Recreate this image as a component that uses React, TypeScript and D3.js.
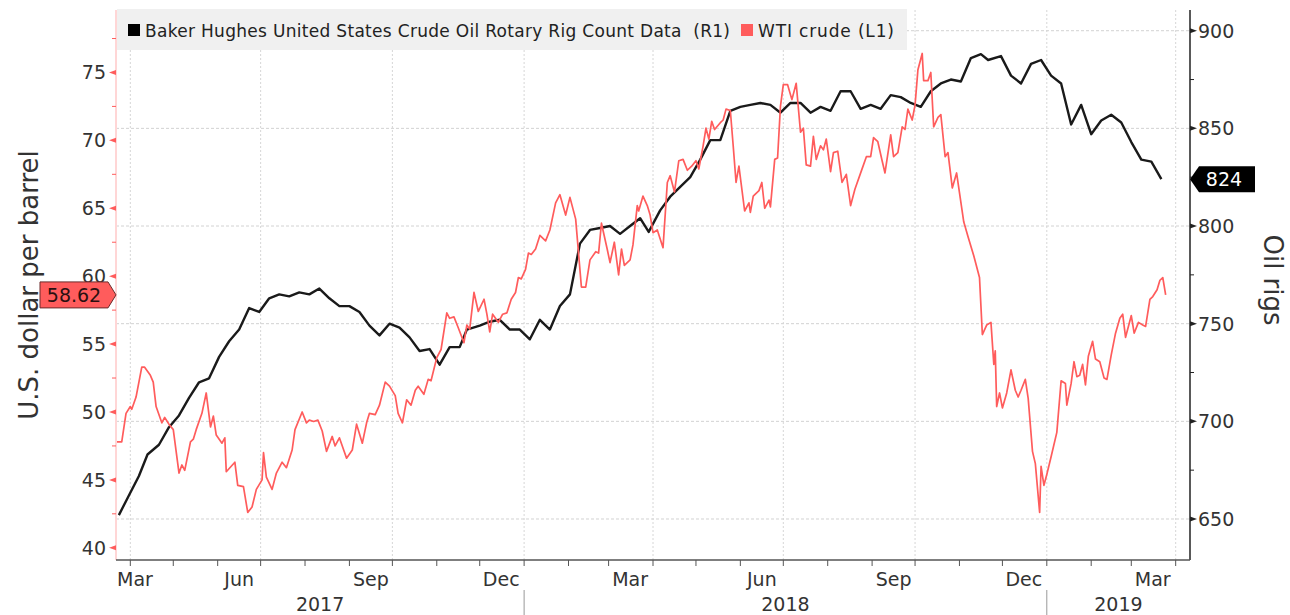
import { useEffect, useRef } from "react";
import * as d3 from "d3";

// Baker Hughes US crude oil rig count, weekly
const rigDates = [
  "2017-03-24", "2017-03-31", "2017-04-07", "2017-04-13", "2017-04-21", "2017-04-28",
  "2017-05-05", "2017-05-12", "2017-05-19", "2017-05-26", "2017-06-02", "2017-06-09",
  "2017-06-16", "2017-06-23", "2017-06-30", "2017-07-07", "2017-07-14", "2017-07-21",
  "2017-07-28", "2017-08-04", "2017-08-11", "2017-08-18", "2017-08-25", "2017-09-01",
  "2017-09-08", "2017-09-15", "2017-09-22", "2017-09-29", "2017-10-06", "2017-10-13",
  "2017-10-20", "2017-10-27", "2017-11-03", "2017-11-10", "2017-11-17", "2017-11-22",
  "2017-12-01", "2017-12-08", "2017-12-15", "2017-12-22", "2017-12-29", "2018-01-05",
  "2018-01-12", "2018-01-19", "2018-01-26", "2018-02-02", "2018-02-09", "2018-02-16",
  "2018-02-23", "2018-03-02", "2018-03-09", "2018-03-16", "2018-03-23", "2018-03-29",
  "2018-04-06", "2018-04-13", "2018-04-20", "2018-04-27", "2018-05-04", "2018-05-11",
  "2018-05-18", "2018-05-25", "2018-06-01", "2018-06-08", "2018-06-15", "2018-06-22",
  "2018-06-29", "2018-07-06", "2018-07-13", "2018-07-20", "2018-07-27", "2018-08-03",
  "2018-08-10", "2018-08-17", "2018-08-24", "2018-08-31", "2018-09-07", "2018-09-14",
  "2018-09-21", "2018-09-28", "2018-10-05", "2018-10-12", "2018-10-19", "2018-10-26",
  "2018-11-02", "2018-11-09", "2018-11-16", "2018-11-21", "2018-11-30", "2018-12-07",
  "2018-12-14", "2018-12-21", "2018-12-28", "2019-01-04", "2019-01-11", "2019-01-18",
  "2019-01-25", "2019-02-01", "2019-02-08", "2019-02-15", "2019-02-22", "2019-03-01",
  "2019-03-08", "2019-03-15", "2019-03-22",
];
const rigCounts = [
  652, 662, 672, 683, 688, 697, 703, 712, 720, 722, 733, 741,
  747, 758, 756, 763, 765, 764, 766, 765, 768, 763, 759, 759,
  756, 749, 744, 750, 748, 743, 736, 737, 729, 738, 738, 747,
  749, 751, 752, 747, 747, 742, 752, 747, 759, 765, 791, 798,
  799, 800, 796, 800, 804, 797, 808, 815, 820, 825, 834, 844,
  844, 859, 861, 862, 863, 862, 858, 863, 863, 858, 861, 859,
  869, 869, 860, 862, 860, 867, 866, 863, 861, 869, 873, 875,
  874, 886, 888, 885, 887, 877, 873, 883, 885, 877, 873, 852,
  862, 847, 854, 857, 853, 843, 834, 833, 824,
];

// WTI crude, $/bbl (days since WTI_START)
const WTI_START = "2017-03-22";
const wtiDay = [
  0, 4, 7, 10, 11, 14, 18, 20, 24, 26, 28, 32, 34, 37, 40, 44, 46, 48, 52, 54,
  56, 60, 63, 66, 68, 70, 74, 76, 77, 83, 85, 89, 92, 95, 98, 102, 103, 105, 109, 112,
  116, 119, 123, 125, 130, 133, 135, 138, 141, 144, 147, 151, 153, 156, 159, 161, 165, 168, 172, 175,
  177, 181, 184, 188, 191, 195, 197, 200, 203, 206, 209, 211, 215, 218, 220, 224, 227, 231, 233, 236,
  239, 243, 245, 247, 250, 253, 257, 259, 261, 263, 267, 270, 273, 276, 279, 281, 283, 286, 288, 290,
  293, 296, 300, 303, 307, 310, 314, 317, 321, 325, 328, 331, 335, 337, 339, 343, 345, 348, 351, 353,
  355, 359, 361, 364, 365, 368, 371, 373, 375, 378, 382, 385, 387, 390, 393, 396, 399, 402, 405, 407,
  410, 412, 414, 416, 418, 422, 424, 426, 429, 431, 433, 435, 439, 442, 443, 445, 449, 451, 453, 456,
  457, 460, 462, 464, 466, 469, 472, 475, 478, 480, 482, 485, 487, 489, 492, 494, 496, 499, 501, 504,
  507, 510, 513, 516, 521, 524, 527, 529, 532, 535, 537, 541, 543, 546, 549, 551, 553, 556, 558, 560,
  563, 564, 567, 569, 571, 574, 576, 579, 581, 584, 587, 592, 595, 599, 603, 605, 608, 611, 613, 614,
  615, 617, 619, 622, 625, 628, 630, 632, 635, 637, 640, 642, 645, 646, 648, 650, 653, 657, 660, 663,
  664, 667, 669, 671, 673, 675, 677, 679, 682, 684, 687, 690, 692, 695, 698, 701, 703, 705, 709, 711,
  714, 717, 719, 722, 724, 727, 729, 731, 733,
];
const wtiPrice = [
  47.8, 47.8, 49.9, 50.4, 50.2, 51.1, 53.3, 53.3, 52.7, 52.2, 50.4, 49.2, 49.6, 49.1, 48.7, 45.5, 46.1, 45.7, 47.8, 48.0,
  48.7, 49.9, 51.4, 48.9, 49.7, 48.3, 47.7, 48.1, 45.6, 46.3, 44.6, 44.5, 42.6, 43.0, 44.3, 45.0, 47.0, 45.2, 44.3, 45.5,
  46.3, 45.9, 47.2, 48.7, 50.0, 49.2, 49.4, 49.3, 49.4, 48.6, 47.1, 48.2, 47.5, 48.1, 47.2, 46.6, 47.2, 49.1, 47.7, 49.2,
  49.9, 49.8, 50.5, 52.2, 51.9, 51.2, 49.9, 49.2, 50.9, 50.5, 51.6, 51.9, 51.3, 52.4, 52.3, 54.0, 54.6, 57.3, 56.9, 57.0,
  56.2, 55.1, 56.4, 56.1, 58.8, 57.4, 58.3, 57.2, 55.9, 57.2, 56.6, 57.2, 57.3, 58.3, 58.8, 59.9, 59.8, 60.5, 61.7, 61.6,
  62.0, 63.0, 62.6, 63.4, 65.4, 66.0, 64.5, 65.8, 64.2, 59.2, 59.2, 61.2, 61.8, 61.7, 63.9, 62.0, 61.0, 62.5, 60.1, 62.0,
  60.8, 61.2, 62.3, 65.2, 64.8, 65.9, 65.2, 64.5, 63.2, 63.4, 62.1, 66.9, 67.4, 66.2, 68.5, 68.6, 67.8, 68.1, 68.5, 67.9,
  69.6, 70.9, 70.1, 71.4, 70.8, 71.3, 71.5, 72.3, 72.2, 69.6, 66.9, 68.1, 64.8, 65.4, 64.7, 65.9, 66.3, 66.9, 65.0, 65.6,
  65.1, 68.6, 68.7, 72.5, 74.1, 74.1, 73.0, 74.2, 70.6, 70.9, 68.2, 68.1, 70.3, 68.6, 69.6, 69.3, 70.1, 67.7, 69.1, 69.2,
  66.9, 67.5, 65.2, 66.4, 67.9, 68.8, 68.8, 70.2, 69.9, 68.5, 67.6, 70.4, 68.8, 69.1, 71.0, 70.8, 72.3, 71.5, 72.6, 75.2,
  76.4, 74.4, 74.4, 75.0, 71.0, 71.7, 71.9, 68.8, 69.1, 66.5, 67.6, 64.0, 62.9, 61.5, 59.9, 55.7, 56.4, 56.6, 53.5, 54.5,
  50.4, 51.4, 50.3, 51.4, 53.1, 51.6, 51.1, 51.6, 52.4, 51.0, 47.1, 46.2, 42.6, 46.0, 44.6, 45.4, 46.7, 48.5, 52.3, 52.1,
  50.5, 52.1, 53.7, 52.6, 52.7, 53.5, 52.0, 54.1, 55.2, 53.9, 53.7, 52.5, 52.4, 54.2, 55.8, 56.9, 57.2, 55.5, 57.1, 55.8,
  56.6, 56.4, 56.3, 58.3, 58.5, 59.0, 59.7, 59.9, 58.62,
];

const leftTicks = [40, 45, 50, 55, 60, 65, 70, 75];
const rightTicks = [650, 700, 750, 800, 850, 900];
const quarterMonths = ["Mar", "Jun", "Sep", "Dec"];
const years = ["2017", "2018", "2019"];

const FONT = "'DejaVu Sans', sans-serif";
const RED = "#ff5c5c";

export default function App() {
  const ref = useRef<SVGSVGElement>(null);

  useEffect(() => {
    const svg = d3.select(ref.current);
    svg.selectAll("*").remove();

    const width = 1290;
    const height = 615;
    const left = 116;
    const right = 1190;
    const top = 10;
    const bottom = 560;

    const parse = d3.timeParse("%Y-%m-%d");
    const x = d3
      .scaleTime()
      .domain([parse("2017-03-22")!, parse("2019-04-11")!])
      .range([left, right]);
    const yL = d3.scaleLinear().domain([39.1, 79.6]).range([bottom, top]);
    const yR = d3.scaleLinear().domain([629, 910.6]).range([bottom, top]);

    svg.attr("width", width).attr("height", height).style("font-family", FONT);

    // gridlines
    const months = d3.timeMonth.range(parse("2017-04-01")!, parse("2019-04-12")!);
    svg
      .append("g")
      .selectAll("line")
      .data(rightTicks)
      .join("line")
      .attr("x1", left)
      .attr("x2", right)
      .attr("y1", (d) => yR(d))
      .attr("y2", (d) => yR(d))
      .attr("stroke", "#d2d2d2")
      .attr("stroke-dasharray", "3,2");
    svg
      .append("g")
      .selectAll("line")
      .data(months.filter((m) => m.getMonth() % 3 === 0))
      .join("line")
      .attr("x1", (d) => x(d))
      .attr("x2", (d) => x(d))
      .attr("y1", top)
      .attr("y2", bottom)
      .attr("stroke", "#d6d6d6")
      .attr("stroke-dasharray", "2,2");

    // legend box
    svg.append("rect").attr("x", left + 1).attr("y", 9).attr("width", 790).attr("height", 41).attr("fill", "#f0f0f0");
    svg.append("rect").attr("x", 128).attr("y", 24).attr("width", 12).attr("height", 12).attr("fill", "#000");
    svg
      .append("text")
      .attr("x", 145)
      .attr("y", 37)
      .attr("font-size", 17)
      .attr("fill", "#222")
      .attr("textLength", 585)
      .attr("lengthAdjust", "spacing")
      .text("Baker Hughes United States Crude Oil Rotary Rig Count Data\u00a0\u00a0(R1)");
    svg.append("rect").attr("x", 741).attr("y", 24).attr("width", 12).attr("height", 12).attr("fill", RED);
    svg
      .append("text")
      .attr("x", 758)
      .attr("y", 37)
      .attr("font-size", 17)
      .attr("fill", "#222")
      .attr("textLength", 136)
      .attr("lengthAdjust", "spacing")
      .text("WTI crude (L1)");

    // series
    const start = parse(WTI_START)!;
    const wti = wtiDay.map((d, i) => ({ date: d3.timeDay.offset(start, d), v: wtiPrice[i] }));
    const rigs = rigDates.map((d, i) => ({ date: parse(d)!, v: rigCounts[i] }));

    svg
      .append("path")
      .datum(rigs)
      .attr("fill", "none")
      .attr("stroke", "#1a1a1a")
      .attr("stroke-width", 2.4)
      .attr("stroke-linejoin", "round")
      .attr(
        "d",
        d3
          .line<{ date: Date; v: number }>()
          .x((d) => x(d.date))
          .y((d) => yR(d.v))
      );

    svg
      .append("path")
      .datum(wti)
      .attr("fill", "none")
      .attr("stroke", RED)
      .attr("stroke-width", 1.7)
      .attr("stroke-linejoin", "round")
      .attr(
        "d",
        d3
          .line<{ date: Date; v: number }>()
          .x((d) => x(d.date))
          .y((d) => yL(d.v))
      );

    // left axis (L1)
    svg.append("line").attr("x1", left).attr("x2", left).attr("y1", top).attr("y2", bottom).attr("stroke", "#ffd6d6").attr("stroke-width", 2);
    const leftMinor = d3.range(42.5, 79, 5);
    svg
      .append("g")
      .selectAll("line")
      .data(leftMinor)
      .join("line")
      .attr("x1", left - 4)
      .attr("x2", left)
      .attr("y1", (d) => yL(d))
      .attr("y2", (d) => yL(d))
      .attr("stroke", RED);
    svg
      .append("g")
      .selectAll("path")
      .data(leftTicks)
      .join("path")
      .attr("d", (d) => `M${left - 7},${yL(d)}L${left},${yL(d) - 2.5}L${left},${yL(d) + 2.5}Z`)
      .attr("fill", RED);
    svg
      .append("g")
      .selectAll("text")
      .data(leftTicks)
      .join("text")
      .attr("x", left - 10)
      .attr("y", (d) => yL(d) + 7)
      .attr("text-anchor", "end")
      .attr("font-size", 19)
      .attr("fill", "#333")
      .text((d) => d);

    // right axis (R1)
    svg.append("line").attr("x1", right).attr("x2", right).attr("y1", top).attr("y2", bottom).attr("stroke", "#222").attr("stroke-width", 1.5);
    svg
      .append("g")
      .selectAll("line")
      .data(d3.range(675, 900, 50))
      .join("line")
      .attr("x1", right)
      .attr("x2", right + 4)
      .attr("y1", (d) => yR(d))
      .attr("y2", (d) => yR(d))
      .attr("stroke", "#222");
    svg
      .append("g")
      .selectAll("path")
      .data(rightTicks)
      .join("path")
      .attr("d", (d) => `M${right + 7},${yR(d)}L${right},${yR(d) - 2.5}L${right},${yR(d) + 2.5}Z`)
      .attr("fill", "#222");
    svg
      .append("g")
      .selectAll("text")
      .data(rightTicks)
      .join("text")
      .attr("x", right + 8)
      .attr("y", (d) => yR(d) + 7)
      .attr("font-size", 19)
      .attr("fill", "#333")
      .text((d) => d);

    // axis titles
    svg
      .append("text")
      .attr("transform", `translate(38,${(top + bottom) / 2}) rotate(-90)`)
      .attr("text-anchor", "middle")
      .attr("font-size", 26)
      .attr("fill", "#333")
      .text("U.S. dollar per barrel");
    svg
      .append("text")
      .attr("transform", `translate(1264,${(top + bottom) / 2 - 5}) rotate(90)`)
      .attr("text-anchor", "middle")
      .attr("font-size", 26)
      .attr("fill", "#333")
      .text("Oil rigs");

    // bottom axis
    svg.append("line").attr("x1", left).attr("x2", right).attr("y1", bottom).attr("y2", bottom).attr("stroke", "#555").attr("stroke-width", 1.5);
    svg
      .append("g")
      .selectAll("line")
      .data(months)
      .join("line")
      .attr("x1", (d) => x(d))
      .attr("x2", (d) => x(d))
      .attr("y1", bottom)
      .attr("y2", bottom + 6)
      .attr("stroke", "#555");

    const quarterEnds = d3.timeMonth
      .range(parse("2017-03-01")!, parse("2019-03-02")!)
      .filter((m) => m.getMonth() % 3 === 2);
    svg
      .append("g")
      .selectAll("text")
      .data(quarterEnds)
      .join("text")
      .attr("x", (d) => {
        const mid = x(d3.timeDay.offset(d, 15));
        return mid < left + 20 ? left + 1 : mid;
      })
      .attr("text-anchor", (d) => (x(d3.timeDay.offset(d, 15)) < left + 20 ? "start" : "middle"))
      .attr("y", 586)
      .attr("font-size", 19)
      .attr("fill", "#333")
      .text((d) => quarterMonths[Math.floor(d.getMonth() / 3)]);

    const yearEdges = [left, x(parse("2018-01-01")!), x(parse("2019-01-01")!), right];
    svg
      .append("g")
      .selectAll("text")
      .data(years)
      .join("text")
      .attr("x", (_, i) => (yearEdges[i] + yearEdges[i + 1]) / 2)
      .attr("y", 611)
      .attr("text-anchor", "middle")
      .attr("font-size", 19)
      .attr("fill", "#333")
      .text((d) => d);
    svg
      .append("g")
      .selectAll("line")
      .data(yearEdges.slice(1, 3))
      .join("line")
      .attr("x1", (d) => d)
      .attr("x2", (d) => d)
      .attr("y1", 590)
      .attr("y2", 615)
      .attr("stroke", "#999");

    // last value tags
    const lastW = wti[wti.length - 1].v;
    const yw = yL(lastW);
    svg
      .append("path")
      .attr("d", `M40,${yw - 13}H108L116,${yw}L108,${yw + 13}H40Z`)
      .attr("fill", RED)
      .attr("stroke", "#6b2b2b")
      .attr("stroke-width", 1);
    svg
      .append("text")
      .attr("x", 74)
      .attr("y", yw + 7)
      .attr("text-anchor", "middle")
      .attr("font-size", 19)
      .attr("fill", "#2a1010")
      .text(lastW.toFixed(2));

    const lastR = rigs[rigs.length - 1].v;
    const yr = yR(lastR);
    svg
      .append("path")
      .attr("d", `M${right},${yr}L${right + 9},${yr - 13}H1255V${yr + 13}H${right + 9}Z`)
      .attr("fill", "#000");
    svg
      .append("text")
      .attr("x", 1224)
      .attr("y", yr + 7)
      .attr("text-anchor", "middle")
      .attr("font-size", 19)
      .attr("fill", "#fff")
      .text(lastR);
  }, []);

  return (
    <svg
      ref={ref}
      style={{ position: "absolute", left: 0, top: 0, background: "#fff" }}
    ></svg>
  );
}
